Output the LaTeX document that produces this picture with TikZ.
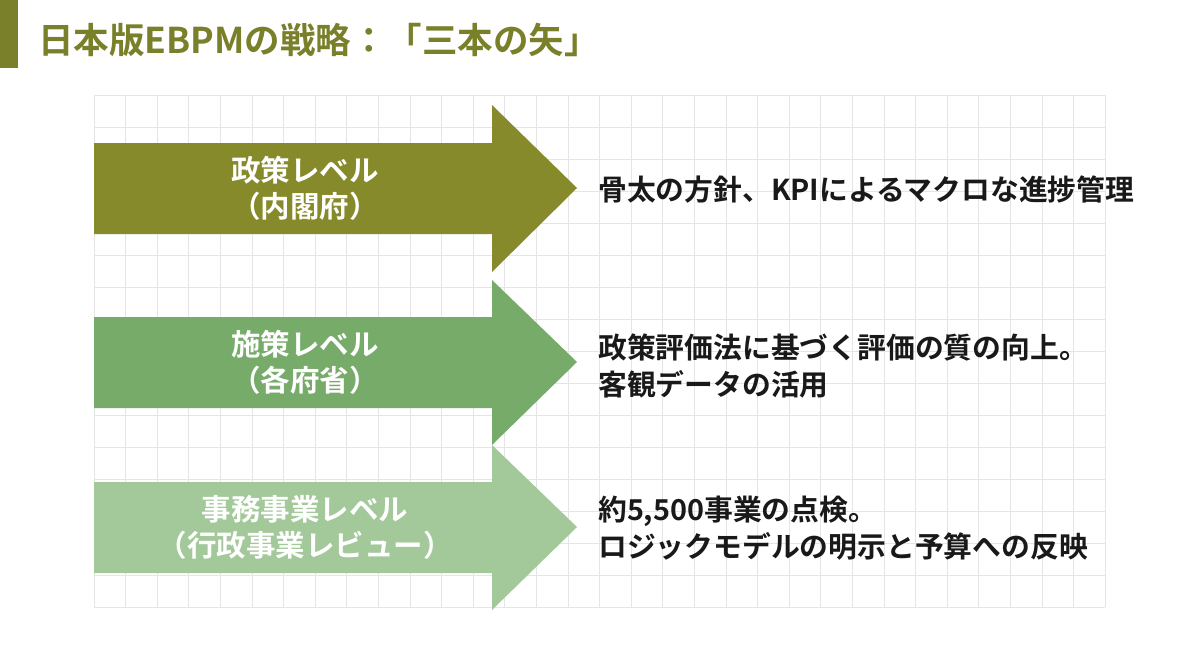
\documentclass[tikz,border=0pt]{standalone}
\usepackage{fontspec}
\setmainfont{Noto Sans CJK JP}[BoldFont={* Bold}]
\begin{document}
\begin{tikzpicture}[x=1pt,y=-1pt,
  lbl/.style={text=white,font=\bfseries\fontsize{29.5}{36}\selectfont,align=center},
  rt/.style={anchor=west,font=\bfseries\fontsize{28.8}{37}\selectfont,align=left,text=black!90,inner sep=0pt}]
\definecolor{olv}{HTML}{878A2A}
\definecolor{grn}{HTML}{76AB6A}
\definecolor{lgr}{HTML}{A3C99A}
\definecolor{ttl}{HTML}{7A7F2A}
\useasboundingbox[fill=white] (0,0) rectangle (1200,670);
\fill[ttl] (0,0) rectangle (18,68);
\node[anchor=west,text=ttl,font=\bfseries\fontsize{35.5}{40}\selectfont,inner sep=0pt] (title) at (38,40) {日本版EBPMの戦略：「三本の矢」};
\foreach \x in {0,...,31} \draw[black!10,line width=0.8] (94+\x*31.6,95) -- (94+\x*31.6,607);
\foreach \y in {0,...,16} \draw[black!10,line width=0.8] (94,95+\y*32) -- (1105,95+\y*32);
\draw[black!10,line width=0.8] (1105,95) -- (1105,607);
\fill[olv] (94,143) -- (492,143) -- (492,105) -- (577,188) -- (492,272) -- (492,234) -- (94,234) -- cycle;
\fill[grn] (94,317) -- (492,317) -- (492,280) -- (577,362) -- (492,445) -- (492,408) -- (94,408) -- cycle;
\fill[lgr] (94,482) -- (492,482) -- (492,445) -- (577,527) -- (492,610) -- (492,573) -- (94,573) -- cycle;
\node[lbl] (a1) at (305,188) {政策レベル\\（内閣府）};
\node[lbl] (a2) at (305,362) {施策レベル\\（各府省）};
\node[lbl] (a3) at (305,527) {事務事業レベル\\（行政事業レビュー）};
\node[rt] (t1) at (598,190) {骨太の方針、KPIによるマクロな進捗管理};
\node[rt] (t2) at (598,366) {政策評価法に基づく評価の質の向上。\\客観データの活用};
\node[rt] (t3) at (598,528) {約5,500事業の点検。\\ロジックモデルの明示と予算への反映};
\end{tikzpicture}
\end{document}
